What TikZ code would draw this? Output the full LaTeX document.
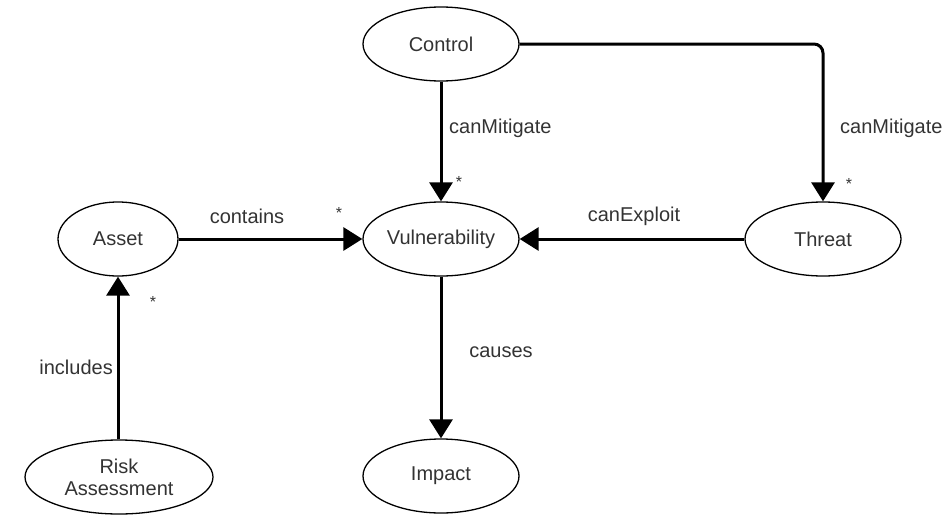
\documentclass[tikz,border=0pt]{standalone}
\usepackage{fontspec}
\setmainfont{Liberation Sans}
\usetikzlibrary{shapes.geometric,arrows.meta}
\begin{document}
\begin{tikzpicture}[x=1pt,y=-1pt,
  concept/.style={ellipse,draw=black,line width=1.3pt,fill=white,inner sep=0pt,
    minimum width=156pt,minimum height=74pt,align=center,text=black!80,
    font=\fontsize{20}{22}\selectfont},
  rel/.style={draw=black,line width=3pt,
    -{Triangle[width=23pt,length=19pt]}},
  lbl/.style={inner sep=0pt,text=black!80,font=\fontsize{20}{22}\selectfont},
  mult/.style={inner sep=0pt,text=black!80,font=\fontsize{16}{18}\selectfont}]
\useasboundingbox (0,0) rectangle (950,514);

% concepts
\node[concept] (control) at (441,44) {Control};
\node[concept] (vuln) at (441,239) {Vulnerability};
\node[concept] (threat) at (823,239) {Threat};
\node[concept,minimum width=120pt] (asset) at (118,239) {Asset};
\node[concept,minimum width=188pt] (risk) at (119,477) {Risk\\Assessment};
\node[concept] (impact) at (441,476) {Impact};

% relations
\draw[rel] (control.south) -- (vuln.north);
\draw[rel,rounded corners=9pt] (control.east) -| (threat.north);
\draw[rel] (threat.west) -- (vuln.east);
\draw[rel] (asset.east) -- (vuln.west);
\draw[rel] (risk.north -| asset.south) -- (asset.south);
\draw[rel] (vuln.south) -- (impact.north);

% relation names
\node[lbl,anchor=west] (l1) at (449,128) {canMitigate};
\node[lbl,anchor=west] (l2) at (840,128) {canMitigate};
\node[lbl] (l3) at (247,216) {contains};
\node[lbl] (l4) at (634,216) {canExploit};
\node[lbl,anchor=east] (l5) at (113,367) {includes};
\node[lbl] (l6) at (501,352) {causes};

% multiplicities
\node[mult] (m1) at (459,182) {*};
\node[mult] (m2) at (849,184) {*};
\node[mult] (m3) at (339,213) {*};
\node[mult] (m4) at (153,302) {*};
\end{tikzpicture}
\end{document}
